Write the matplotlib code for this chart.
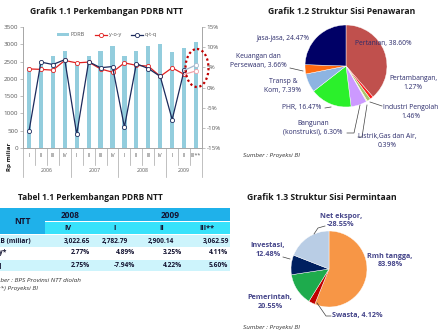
import matplotlib.pyplot as plt
import numpy as np
from matplotlib.patches import Rectangle, Ellipse

plt.rcParams['font.family'] = ['Open Sans', 'DejaVu Sans']

# --- Grafik 1.1 data ---
quarters = ['I', 'II', 'III', 'IV', 'I', 'II', 'III', 'IV', 'I', 'II', 'III', 'IV', 'I', 'II', 'III**']
years = ['2006', '2007', '2008', '2009']
pdrb = [2350, 2510, 2650, 2820, 2490, 2660, 2800, 2950, 2650, 2810, 2940, 3022.65, 2782.79, 2900.14, 3062.59]
yoy = [4.6, 4.5, 4.3, 6.7, 6.1, 6.3, 4.6, 3.8, 6.1, 5.5, 5.3, 2.77, 4.89, 3.25, 4.11]
qtq = [-10.9, 6.3, 5.7, 6.9, -11.6, 6.4, 4.9, 5.2, -9.8, 5.9, 4.7, 2.75, -7.94, 4.22, 5.60]

# --- Tabel 1.1 data ---
tab_cols = ['IV', 'I', 'II', 'III**']
tab_pdrb = ['3,022.65', '2,782.79', '2,900.14', '3,062.59']
tab_yoy = ['2.77%', '4.89%', '3.25%', '4.11%']
tab_qtq = ['2.75%', '-7.94%', '4.22%', '5.60%']

# --- Grafik 1.2 data ---
supply_names = ['Pertanian', 'Pertambangan', 'Industri Pengolah', 'Listrik,Gas dan Air',
                'Bangunan\n(konstruksi)', 'PHR', 'Transp &\nKom', 'Keuangan dan\nPersewaan', 'Jasa-jasa']
supply_share = [38.60, 1.27, 1.46, 0.39, 6.30, 16.47, 7.39, 3.66, 24.47]
supply_colors = ['#c0504d', '#ff1a1a', '#a9c46c', '#f2f2a0', '#cc99ff', '#2bf02b', '#8db4e2', '#ff6a10', '#000066']

# --- Grafik 1.3 data ---
demand_names = ['Rmh tangga', 'Swasta', 'Pemerintah', 'Investasi', 'Net ekspor']
demand_share = [83.98, 4.12, 20.55, 12.48, -28.55]
demand_colors = ['#f79646', '#c00000', '#1eab4d', '#002060', '#b9cde5']

W, H = 440, 333
fig = plt.figure(figsize=(W / 100, H / 100), dpi=100)


def box(x0, y0, x1, y1):
    return [x0 / W, 1 - y1 / H, (x1 - x0) / W, (y1 - y0) / H]


grey = '#595959'
ink = '#1a1a1a'

# ---------------- Grafik 1.1 ----------------
ax = fig.add_axes(box(23, 27, 202, 148))
x = np.arange(len(pdrb))
bars = ax.bar(x, pdrb, width=0.35, color='#93cddd', label='PDRB')
ax.set_xlim(-0.5, len(pdrb) - 0.5)
ax.set_ylim(0, 3500)
ax.set_yticks(np.arange(0, 3501, 500))
ax.set_xticks([])
ax2 = ax.twinx()
ax2.set_ylim(-15, 15)
ax2.set_yticks(np.arange(-15, 16, 5))
ax2.set_yticklabels([f'{v}%' for v in range(-15, 16, 5)])
l1, = ax2.plot(x[:14], yoy[:14], color='#e02020', lw=0.9, marker='o', ms=3,
               mfc='white', mec='#e02020', mew=0.6, label='y-o-y')
l2, = ax2.plot(x[:14], qtq[:14], color='#1c2a5c', lw=0.9, marker='o', ms=3,
               mfc='white', mec='#1c2a5c', mew=0.6, label='q-t-q')
ax2.plot(x[13:], yoy[13:], color='#f0a0a8', lw=0.9, marker='o', ms=3,
         mfc='white', mec='#f0a0a8', mew=0.6, markevery=[1])
ax2.plot(x[13:], qtq[13:], color='#a8b8cc', lw=0.9, marker='o', ms=3,
         mfc='white', mec='#a8b8cc', mew=0.6, markevery=[1])
for a in (ax, ax2):
    for s in a.spines.values():
        s.set_color('#a6a6a6')
        s.set_linewidth(0.6)
    a.spines['top'].set_visible(False)
    a.tick_params(length=2, width=0.5, color='#a6a6a6', labelsize=4.5, labelcolor=grey, pad=1.5)
ax2.legend([bars, l1, l2], ['PDRB', 'y-o-y', 'q-t-q'], ncol=3, loc='center',
           bbox_to_anchor=(0.47, 0.934), frameon=False, fontsize=4, handlelength=2.2,
           handleheight=0.5, handletextpad=0.3, columnspacing=1.8, labelcolor=grey)

# category / year labels under the axis
trans = ax.get_xaxis_transform()
for i, q in enumerate(quarters):
    ax.text(i, -0.058, q, transform=trans, ha='center', va='center', fontsize=3.8, color=grey)
for i in range(len(quarters) + 1):
    long = i in (0, 4, 8, 12, len(quarters))
    ax.plot([i - 0.5, i - 0.5], [0, -0.24 if long else -0.14], transform=trans,
            color='#a6a6a6', lw=0.5, clip_on=False)
year_pos = [1.5, 5.5, 9.5, 13]
for xp, yr in zip(year_pos, years):
    ax.text(xp, -0.182, yr, transform=trans, ha='center', va='center', fontsize=3.8, color=grey)

# overlay in pixel coordinates
ov = fig.add_axes([0, 0, 1, 1], zorder=10)
ov.set_xlim(0, W)
ov.set_ylim(H, 0)
ov.axis('off')

ov.text(107, 11, 'Grafik 1.1 Perkembangan PDRB NTT', ha='center', va='center',
        fontsize=6.2, fontweight='bold', color=ink)
ov.text(10, 157, 'Rp miliar', rotation=90, ha='center', va='center', fontsize=4.5,
        fontweight='bold', color=ink)
ov.add_patch(Ellipse((197, 68), 23, 38, fill=False, edgecolor='#c00000', lw=1.6,
                     linestyle=(0, (1, 1.2))))

# ---------------- Tabel 1.1 ----------------
hdr1, hdr2, light = '#1fb1ea', '#38e2fb', '#cdf4fc'
ov.text(90, 198, 'Tabel 1.1 Perkembangan PDRB NTT', ha='center', va='center',
        fontsize=6.0, fontweight='bold', color=ink)
ov.add_patch(Rectangle((-60, 208), 105, 26, color=hdr1, lw=0))
ov.add_patch(Rectangle((45, 208), 185, 13, color=hdr1, lw=0))
ov.add_patch(Rectangle((45, 221.5), 185, 12.5, color=hdr2, lw=0))
ov.add_patch(Rectangle((-60, 235), 290, 11.8, color=light, lw=0))
ov.add_patch(Rectangle((-60, 259.5), 290, 11.5, color=light, lw=0))
tcol = '#141432'
ov.text(22, 221, 'NTT', ha='center', va='center', fontsize=6, fontweight='bold', color=tcol)
ov.text(70, 215, '2008', ha='center', va='center', fontsize=6, fontweight='bold', color=tcol)
ov.text(170, 215, '2009', ha='center', va='center', fontsize=6, fontweight='bold', color=tcol)
for xc, c in zip([68, 115, 162, 207], tab_cols):
    ov.text(xc, 228, c, ha='center', va='center', fontsize=5.2, fontweight='bold', color=tcol)
row_y = [241, 253, 265.5]
for y, lab in zip(row_y, ['PDRB (miliar)', 'y-o-y*', 'q-t-q']):
    ov.text(-13, y, lab, ha='left', va='center', fontsize=4.8, fontweight='bold', color=tcol)
for xr, v in zip([90, 128, 174, 229], tab_pdrb):
    ov.text(xr, row_y[0], v, ha='right', va='center', fontsize=4.8, fontweight='bold', color=tcol)
for xr, v1, v2 in zip([90, 135, 182, 228], tab_yoy, tab_qtq):
    ov.text(xr, row_y[1], v1, ha='right', va='center', fontsize=4.8, fontweight='bold', color=tcol)
    ov.text(xr, row_y[2], v2, ha='right', va='center', fontsize=4.8, fontweight='bold', color=tcol)
ov.text(-12, 280, 'Sumber : BPS Provinsi NTT diolah', ha='left', va='center', fontsize=4.6,
        style='italic', color='#333333')
ov.text(-3, 288, '**) Proyeksi BI', ha='left', va='center', fontsize=4.6,
        style='italic', color='#333333')

# ---------------- Grafik 1.2 ----------------
lab_col = '#2b2b6b'
ov.text(342, 12, 'Grafik 1.2 Struktur Sisi Penawaran', ha='center', va='center',
        fontsize=6.2, fontweight='bold', color=ink)
R1, c1 = 41, (346, 66)
axp1 = fig.add_axes(box(c1[0] - R1, c1[1] - R1, c1[0] + R1, c1[1] + R1))
axp1.pie(supply_share, colors=supply_colors, startangle=90, counterclock=False,
         wedgeprops=dict(linewidth=0.3, edgecolor='white'))
axp1.set_xlim(-1, 1)
axp1.set_ylim(-1, 1)
axp1.axis('off')
seps = [', ', ',\n', '\n', ',\n', ', ', ', ', ', ', ', ', ', ']
lab_pos = [(383, 43), (413, 83), (411, 112), (387, 141), (313, 128), (302, 108),
           (283, 86), (258, 61), (283, 38)]
for n, s, v, p in zip(supply_names, seps, supply_share, lab_pos):
    ov.text(p[0], p[1], f'{n}{s}{v:.2f}%', ha='center', va='center', fontsize=4.9,
            color=lab_col, linespacing=1.3)
lead = '#404040'
for xs, ys in [([290, 303], [68, 71]), ([325, 331], [108, 107]),
               ([347, 354, 360], [133, 133, 105]), ([358, 362, 367], [137, 137, 105]),
               ([382, 370], [106, 102])]:
    ov.plot(xs, ys, color=lead, lw=0.5)
ov.text(243, 155, 'Sumber : Proyeksi BI', ha='left', va='center', fontsize=4.6,
        style='italic', color='#333333')

# ---------------- Grafik 1.3 ----------------
ov.text(322, 197, 'Grafik 1.3 Struktur Sisi Permintaan', ha='center', va='center',
        fontsize=6.2, fontweight='bold', color=ink)
R2, c2 = 38, (329, 269)
axp2 = fig.add_axes(box(c2[0] - R2, c2[1] - R2, c2[0] + R2, c2[1] + R2))
axp2.pie(np.abs(demand_share), colors=demand_colors, startangle=90, counterclock=False,
         wedgeprops=dict(linewidth=0.3, edgecolor='white'))
axp2.set_xlim(-1, 1)
axp2.set_ylim(-1, 1)
axp2.axis('off')
lab_col2 = '#45458a'
dpos = [(390, 261, 'center'), (332, 316, 'left'), (270, 302, 'center'),
        (268, 250, 'center'), (341, 221, 'center')]
dseps = [',\n', ', ', ',\n', ',\n', ',\n']
for n, s, v, p in zip(demand_names, dseps, demand_share, dpos):
    ov.text(p[0], p[1], f'{n}{s}{v:.2f}%', ha=p[2], va='center', fontsize=5.2,
            fontweight='bold', color=lab_col2, linespacing=1.2)
for xs, ys in [([317, 326, 331], [303, 316, 316]), ([283, 290], [257, 259]),
               ([325, 318, 314], [226, 228, 234])]:
    ov.plot(xs, ys, color=lead, lw=0.5)
ov.text(243, 327, 'Sumber : Proyeksi BI', ha='left', va='center', fontsize=4.6,
        style='italic', color='#333333')

fig.savefig('out.png', dpi=100)
